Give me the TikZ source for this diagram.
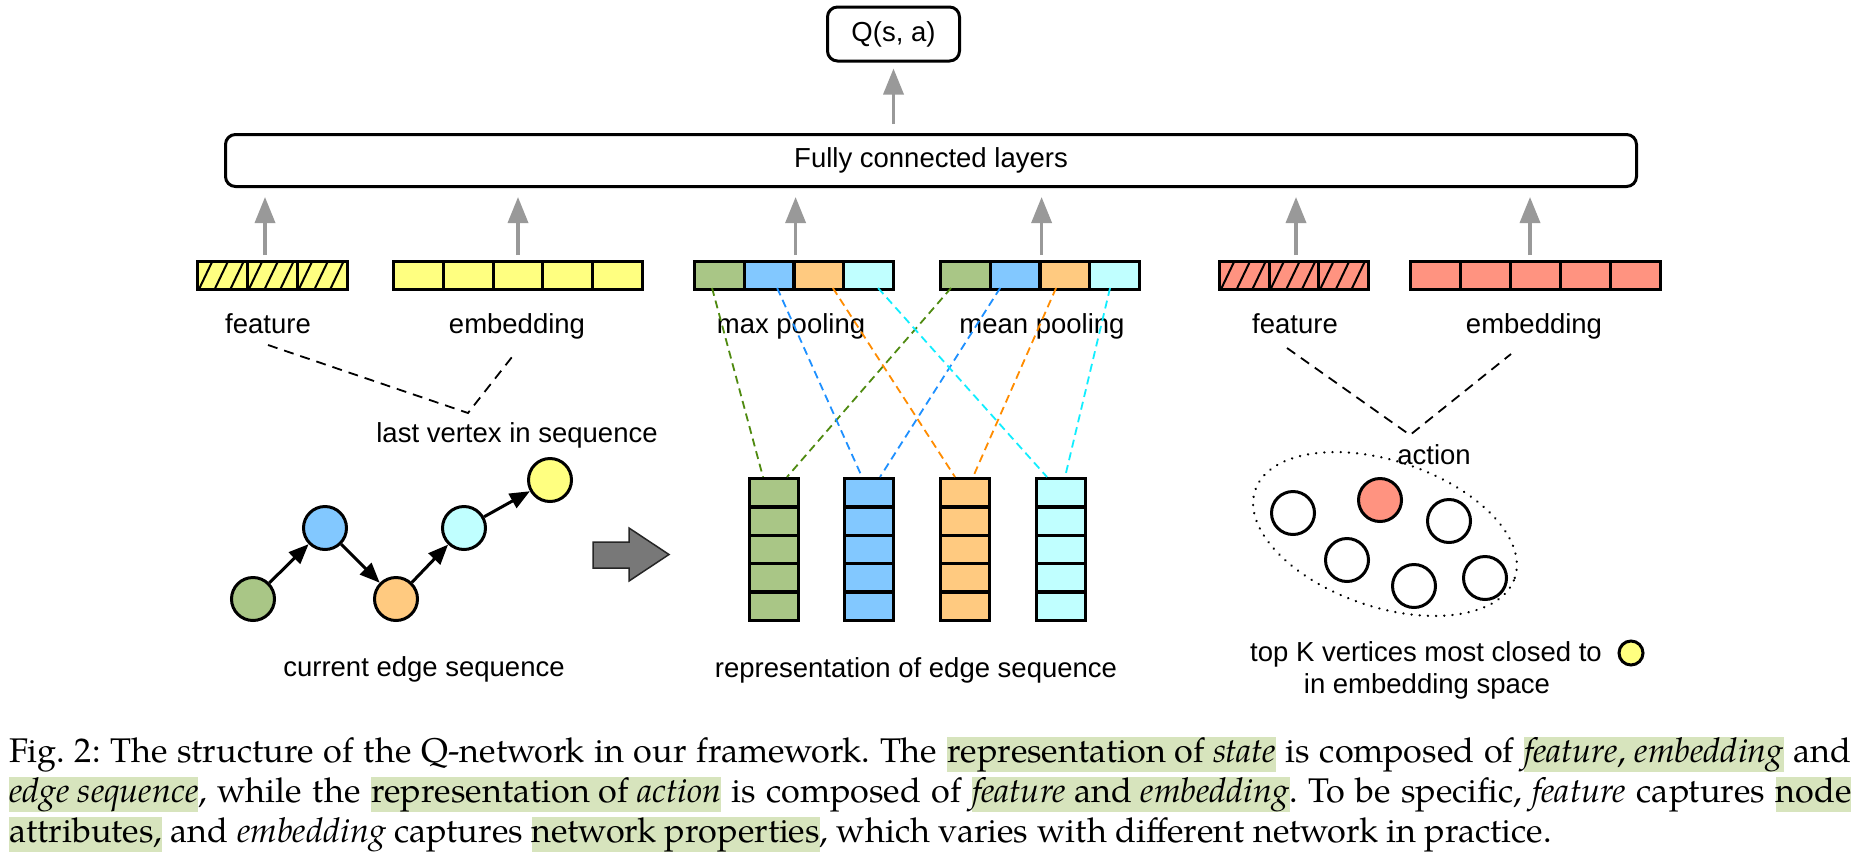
\documentclass[tikz,border=0pt]{standalone}
\usepackage{fontspec}
\setmainfont{Liberation Sans}
\newfontfamily\capfont{TeX Gyre Pagella}
\usetikzlibrary{arrows.meta,shapes.geometric}
\definecolor{cgreen}{HTML}{A9C686}
\definecolor{cblue}{HTML}{82C8FF}
\definecolor{corange}{HTML}{FFCA80}
\definecolor{ccyan}{HTML}{C0FFFF}
\definecolor{cyellow}{HTML}{FFFF80}
\definecolor{csalmon}{HTML}{FF9380}
\definecolor{dgreen}{HTML}{4F8A10}
\definecolor{dblue}{HTML}{1E90FF}
\definecolor{dorange}{HTML}{FF8C00}
\definecolor{dcyan}{HTML}{11EEFF}
\definecolor{hlgreen}{HTML}{D7E4BD}
\definecolor{arrgray}{HTML}{999999}
\newcommand{\hlbox}[1]{{\setlength{\fboxsep}{0pt}\colorbox{hlgreen}{\rule[-5pt]{0pt}{17.5pt}#1}}}
\tikzset{
  lbl/.style={font=\fontsize{13.75pt}{16pt}\selectfont, inner sep=1pt},
  fcbox/.style={draw=black, line width=1.5pt, rounded corners=5pt, inner sep=0pt, font=\fontsize{13.75pt}{16pt}\selectfont},
  cellbox/.style={draw=black, line width=1.6pt, inner sep=0pt},
  hatchline/.style={line width=1pt},
  uparrow/.style={draw=arrgray, line width=1.75pt, -{Triangle[length=13pt,width=10pt]}},
  vert/.style={circle, draw=black, line width=1.5pt, minimum size=21.5pt, inner sep=0pt},
  garrow/.style={line width=1.5pt, -{Triangle[length=10pt,width=8pt]}},
  bdash/.style={line width=0.9pt, dash pattern=on 5pt off 3.5pt},
  cdash/.style={line width=0.9pt, dash pattern=on 4pt off 2.5pt},
}
\begin{document}
\begin{tikzpicture}[x=0.5pt,y=-0.5pt]
\useasboundingbox (0,0) rectangle (1857,857);
\fill[white] (0,0) rectangle (1857,857);

% top boxes
\node[fcbox, minimum width=705.5pt, minimum height=26pt] (fc) at (931,160.5) {Fully connected layers};
\node[fcbox, minimum width=66pt, minimum height=27pt] (q) at (893.5,34) {Q(s, a)};
\draw[uparrow, shorten >=3pt] ([yshift=4.5pt]q.south |- fc.north) -- (q.south);

% vectors
\foreach \i in {1,2,3}
  \node[cellbox, anchor=west, fill=cyellow, minimum width=24.97pt, minimum height=13.9pt] (lf\i) at ({196+(\i-1)*49.93},275.5) {};
\foreach \i in {0,1,2}
  \foreach \k in {0,1,2}
    \draw[hatchline] ({196+\i*49.93+2.6+15.7*\k},290) -- ({196+\i*49.93+16+15.7*\k},262);
\foreach \i in {1,...,5}
  \node[cellbox, anchor=west, fill=cyellow, minimum width=24.88pt, minimum height=13.9pt] (le\i) at ({392+(\i-1)*49.76},275.5) {};
\foreach \i/\c in {1/cgreen,2/cblue,3/corange,4/ccyan}
  \node[cellbox, anchor=west, fill=\c, minimum width=24.85pt, minimum height=13.9pt] (mx\i) at ({693+(\i-1)*49.7},275.5) {};
\foreach \i/\c in {1/cgreen,2/cblue,3/corange,4/ccyan}
  \node[cellbox, anchor=west, fill=\c, minimum width=24.85pt, minimum height=13.9pt] (mn\i) at ({939+(\i-1)*49.7},275.5) {};
\foreach \i in {1,2,3}
  \node[cellbox, anchor=west, fill=csalmon, minimum width=24.8pt, minimum height=13.9pt] (rf\i) at ({1218+(\i-1)*49.6},275.5) {};
\foreach \i in {0,1,2}
  \foreach \k in {0,1,2}
    \draw[hatchline] ({1218+\i*49.6+2.6+15.7*\k},290) -- ({1218+\i*49.6+16+15.7*\k},262);
\foreach \i in {1,...,5}
  \node[cellbox, anchor=west, fill=csalmon, minimum width=24.98pt, minimum height=13.9pt] (re\i) at ({1409+(\i-1)*49.96},275.5) {};

% arrows up to FC
\draw[uparrow, shorten >=4.5pt] ([xshift=-3.75pt,yshift=2.5pt]lf2.north) -- ([xshift=-3.75pt]lf2.north |- fc.south);
\draw[uparrow, shorten >=4.5pt] ([yshift=2.5pt]le3.north) -- (le3.north |- fc.south);
\draw[uparrow, shorten >=4.5pt] ([yshift=2.5pt]mx2.north east) -- (mx2.north east |- fc.south);
\draw[uparrow, shorten >=4.5pt] ([yshift=2.5pt]mn2.north east) -- (mn2.north east |- fc.south);
\draw[uparrow, shorten >=4.5pt] ([xshift=1pt,yshift=2.5pt]rf2.north) -- ([xshift=1pt]rf2.north |- fc.south);
\draw[uparrow, shorten >=4.5pt] ([xshift=-2.75pt,yshift=2.5pt]re3.north) -- ([xshift=-2.75pt]re3.north |- fc.south);

% labels
\node[lbl, anchor=base] (lfl) at (268,333) {feature};
\node[lbl, anchor=base] (lel) at (517,333) {embedding};
\node[lbl, anchor=base] (mxl) at (791,333) {max pooling};
\node[lbl, anchor=base] (mnl) at (1042,333) {mean pooling};
\node[lbl, anchor=base] (rfl) at (1295,333) {feature};
\node[lbl, anchor=base] (rel) at (1534,333) {embedding};

% left V dashed
\coordinate (lvA) at (268,345);
\coordinate (lv) at (468,413);
\coordinate (lvB) at (512,357);
\draw[bdash] (lvA) -- (lv) -- (lvB);
\node[lbl, anchor=base] (lastv) at (517,442) {last vertex in sequence};

% right V dashed
\coordinate (rvA) at (1287,348);
\coordinate (rv) at (1410,435);
\coordinate (rvB) at (1511,354);
\draw[bdash] (rvA) -- (rv) -- (rvB);

% edge sequence graph
\node[vert, fill=cgreen] (g1) at (253,599) {};
\node[vert, fill=cblue] (g2) at (325,528) {};
\node[vert, fill=corange] (g3) at (396,599) {};
\node[vert, fill=ccyan] (g4) at (464,528) {};
\node[vert, fill=cyellow] (g5) at (550,480) {};
\draw[garrow] (g1) -- (g2);
\draw[garrow] (g2) -- (g3);
\draw[garrow] (g3) -- (g4);
\draw[garrow] (g4) -- (g5);
\node[lbl, anchor=base] (curl) at (424,676) {current edge sequence};

% block arrow
\draw[fill=black!53, draw=black!85, line width=0.75pt]
  (593,542) -- (629,542) -- (629,528) -- (669,554.5) -- (629,581) -- (629,568) -- (593,568) -- cycle;

% columns
\foreach \c/\xl/\f in {1/748/cgreen,2/843/cblue,3/939/corange,4/1035/ccyan}
  \foreach \r in {1,...,5}
    \node[cellbox, anchor=north west, fill=\f, minimum width=24.4pt, minimum height=14.18pt] (c\c r\r) at (\xl,{477+(\r-1)*28.36}) {};
\node[lbl, anchor=base] (repl) at (916,677) {representation of edge sequence};

% coloured dashed connectors
\draw[cdash, dgreen] ([xshift=-3.7pt,yshift=1.5pt]mx1.south) -- ([xshift=7.5pt]c1r1.north west);
\draw[cdash, dgreen] ([xshift=-7.2pt,yshift=1.5pt]mn1.south) -- ([xshift=19.5pt]c1r1.north west);
\draw[cdash, dblue] ([xshift=4pt,yshift=1.5pt]mx2.south) -- ([xshift=9.5pt]c2r1.north west);
\draw[cdash, dblue] ([xshift=-7.5pt,yshift=1.5pt]mn2.south) -- ([xshift=18.5pt]c2r1.north west);
\draw[cdash, dorange] ([xshift=7pt,yshift=1.5pt]mx3.south) -- ([xshift=8pt]c3r1.north west);
\draw[cdash, dorange] ([xshift=-4.4pt,yshift=1.5pt]mn3.south) -- ([xshift=17pt]c3r1.north west);
\draw[cdash, dcyan] ([xshift=4.75pt,yshift=1.5pt]mx4.south) -- ([xshift=6pt]c4r1.north west);
\draw[cdash, dcyan] ([xshift=-2.25pt,yshift=1.5pt]mn4.south) -- ([xshift=15pt]c4r1.north west);

% action ellipse
\node[ellipse, draw=black, line width=1.2pt, dash pattern=on 0.1pt off 4pt, line cap=round,
      minimum width=137pt, minimum height=73pt, rotate=-18.7, inner sep=0pt] (ell) at (1385,534) {};
\node[vert, fill=white] (a1) at (1293,513) {};
\node[vert, fill=csalmon] (a2) at (1380,500) {};
\node[vert, fill=white] (a3) at (1449,521) {};
\node[vert, fill=white] (a4) at (1347,560) {};
\node[vert, fill=white] (a5) at (1414,586) {};
\node[vert, fill=white] (a6) at (1485,578) {};
\node[lbl, anchor=base] (act) at (1434,464) {action};
\node[lbl, anchor=base] (topk1) at (1426,661) {top K vertices most closed to};
\node[lbl, anchor=base] (topk2) at (1427,693) {in embedding space};
\node[circle, draw=black, line width=1.5pt, fill=cyellow, minimum size=12pt, inner sep=0pt] (ydot) at (1631,653) {};

% caption
\node[anchor=north west, inner sep=0pt, text width=921pt, align=justify,
      font=\capfont\fontsize{17.1pt}{20pt}\selectfont] (cap) at (9,737) {\frenchspacing\hyphenpenalty=10000\noindent
Fig. 2: The structure of the Q-network in our framework. The \hlbox{representation of \textit{state}} is composed of \hlbox{\textit{feature}, \textit{embedding}} and\linebreak
\hlbox{\textit{edge sequence}}, while the \hlbox{representation of \textit{action}} is composed of \hlbox{\textit{feature} and \textit{embedding}}. To be specific, \textit{feature} captures \hlbox{node}\linebreak
\hlbox{attributes,} and \textit{embedding} captures \hlbox{network properties}, which varies with different network in practice.};
\end{tikzpicture}
\end{document}
